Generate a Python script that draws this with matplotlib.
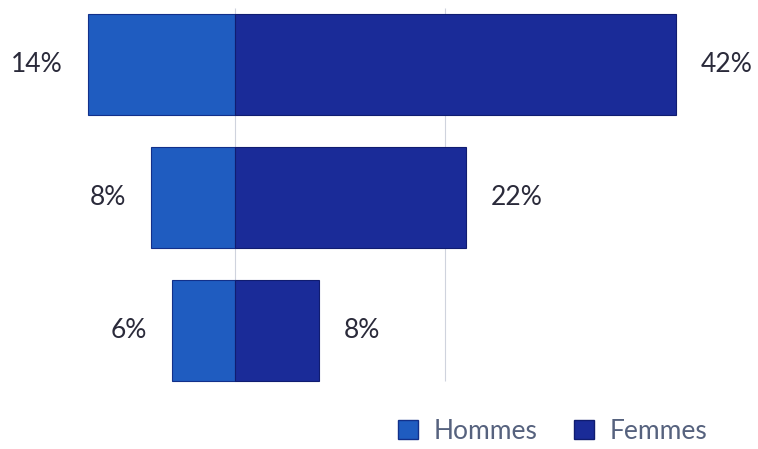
import matplotlib.pyplot as plt
import numpy as np
from matplotlib.patches import Patch

# groups from top to bottom
groups = ['Groupe 1', 'Groupe 2', 'Groupe 3']
hommes = [14, 8, 6]
femmes = [42, 22, 8]

col_h = '#1f5cc0'
col_f = '#1a2b98'

plt.rcParams['font.family'] = ['Lato', 'DejaVu Sans']

fig = plt.figure(figsize=(7.58, 4.49), dpi=100)
ax = fig.add_axes([0, 0, 1, 1])

y = np.arange(len(groups))[::-1]
bar_h = 0.76

ax.barh(y, [-v for v in hommes], height=bar_h, color=col_h, edgecolor='#12308a', linewidth=0.8)
ax.barh(y, femmes, height=bar_h, color=col_f, edgecolor='#101c70', linewidth=0.8)

for yi, h, f in zip(y, hommes, femmes):
    ax.annotate(f'{h}%', xy=(-h, yi), xytext=(-18, 0), textcoords='offset points',
                ha='right', va='center', fontsize=19, color='#2a2a3a')
    ax.annotate(f'{f}%', xy=(f, yi), xytext=(18, 0), textcoords='offset points',
                ha='left', va='center', fontsize=19, color='#2a2a3a')

# faint gridlines, only across the bar area
ax.vlines([0, 20], y.min() - bar_h / 2, y.max() + bar_h / 2 + 0.05,
          color='#cfd3dd', linewidth=0.8, zorder=0)

ax.set_xlim(-235 / 10.5, (758 - 235) / 10.5)
ax.set_ylim(-(449 - 332) / 131, 2 + 64 / 131)
ax.axis('off')

handles = [Patch(facecolor=col_h, edgecolor='#12308a', label='Hommes'),
           Patch(facecolor=col_f, edgecolor='#101c70', label='Femmes')]
fig.legend(handles=handles, loc='center right', bbox_to_anchor=(0.965, 0.04), ncol=2,
           frameon=False, fontsize=19, handlelength=0.75, handleheight=0.75,
           handletextpad=0.6, columnspacing=1.4, labelcolor='#56627e')

fig.savefig('out.png', dpi=100)
